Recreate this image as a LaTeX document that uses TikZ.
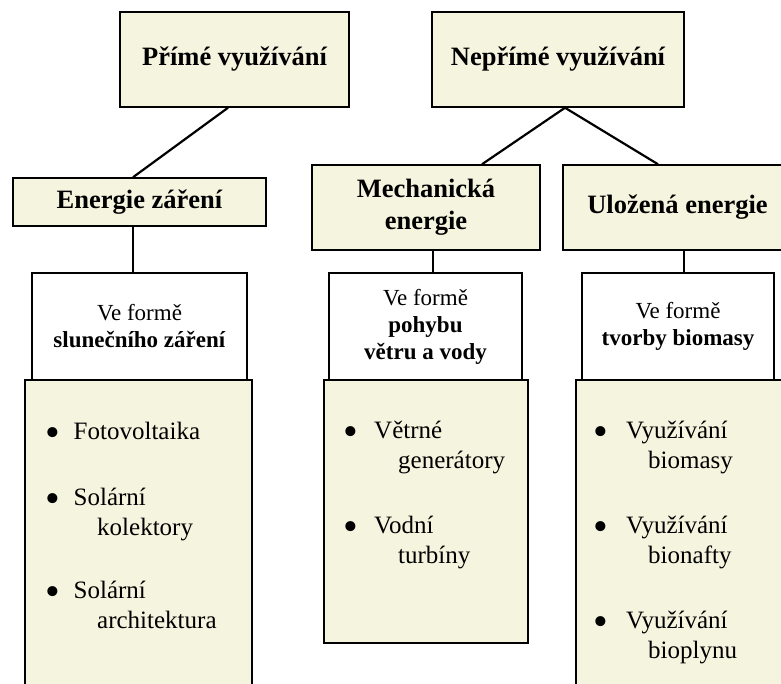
\documentclass[tikz,border=0pt]{standalone}
\usepackage{fontspec}
\setmainfont{Liberation Serif}
\usetikzlibrary{positioning}

\definecolor{boxfill}{RGB}{245,244,222}
\newcommand{\dotbox}[1]{\makebox[#1][l]{\raisebox{-7pt}{\fontsize{42}{42}\selectfont\textbullet}}}

\tikzset{
  headbox/.style={draw, fill=boxfill, line width=1.5pt, inner sep=0pt, align=center,
    font=\fontsize{26.5}{32}\selectfont\bfseries},
  formbox/.style={draw, fill=white, line width=1.5pt, inner sep=0pt, align=center,
    font=\fontsize{23}{27}\selectfont},
  listbox/.style={draw, fill=boxfill, line width=1.5pt, inner sep=0pt},
  entry/.style={anchor=base west, inner sep=0pt, align=left,
    font=\fontsize{25}{30}\selectfont},
  conn/.style={line width=2.2pt}
}

\begin{document}
\begin{tikzpicture}[x=1pt, y=-1pt]
  \clip (0,0) rectangle (781,683);
  % top level
  \node[headbox, minimum width=229pt, minimum height=95pt] (prime) at (234.5,59.5) {Přímé využívání};
  \node[headbox, minimum width=252pt, minimum height=95pt] (neprime) at (558,59.5) {Nepřímé využívání};
  % kinds of energy
  \node[headbox, minimum width=253pt, minimum height=48pt] (zareni) at (139.5,202) {Energie záření};
  \node[headbox, minimum width=228pt, minimum height=85pt] (mech) at (426,207.5) {Mechanická\\energie};
  \node[headbox, minimum width=229pt, minimum height=85pt] (ulozena) at (677.5,207.5) {Uložená energie};
  % forms
  \node[formbox, minimum width=215pt, minimum height=107pt] (form1) at (139.5,326.5) {Ve formě\\\textbf{slunečního záření}};
  \node[formbox, minimum width=193pt, minimum height=107pt] (form2) at (425.5,326.5) {Ve formě\\\textbf{pohybu}\\\textbf{větru a vody}};
  \node[formbox, minimum width=192pt, minimum height=107pt] (form3) at (678,326.5) {Ve formě\\\textbf{tvorby biomasy}};
  % lists
  \node[listbox, minimum width=227pt, minimum height=330pt] (list1) at (138.5,545) {};
  \node[listbox, minimum width=204pt, minimum height=263pt] (list2) at (426,511.5) {};
  \node[listbox, minimum width=214pt, minimum height=330pt] (list3) at (683,545) {};
  % connectors
  \draw[conn] ([xshift=-6.5pt]prime.south) -- ([xshift=-6.5pt]zareni.north);
  \draw[conn] ([xshift=7pt]neprime.south) -- ([xshift=56pt]mech.north);
  \draw[conn] ([xshift=7pt]neprime.south) -- ([xshift=-19.5pt]ulozena.north);
  \draw[conn] ([xshift=-6.5pt]zareni.south) -- ([xshift=-6.5pt]zareni.south |- form1.north);
  \draw[conn] ([xshift=7pt]mech.south) -- ([xshift=7pt]mech.south |- form2.north);
  \draw[conn] ([xshift=6.5pt]ulozena.south) -- ([xshift=6.5pt]ulozena.south |- form3.north);
  % list entries (base = last line)
  \node[entry] (fv) at (45,439) {\dotbox{28.5pt}Fotovoltaika};
  \node[entry] (sk) at (45,535) {\dotbox{28.5pt}Solární\\\hspace*{52pt}kolektory};
  \node[entry] (sa) at (45,628) {\dotbox{28.5pt}Solární\\\hspace*{52pt}architektura};
  \node[entry] (vg) at (343,468) {\dotbox{31pt}Větrné\\\hspace*{55pt}generátory};
  \node[entry] (vt) at (343,563) {\dotbox{31pt}Vodní\\\hspace*{55pt}turbíny};
  \node[entry] (bm) at (593,468) {\dotbox{33pt}Využívání\\\hspace*{55pt}biomasy};
  \node[entry] (bn) at (593,563) {\dotbox{33pt}Využívání\\\hspace*{55pt}bionafty};
  \node[entry] (bp) at (593,658) {\dotbox{33pt}Využívání\\\hspace*{55pt}bioplynu};
\end{tikzpicture}
\end{document}
